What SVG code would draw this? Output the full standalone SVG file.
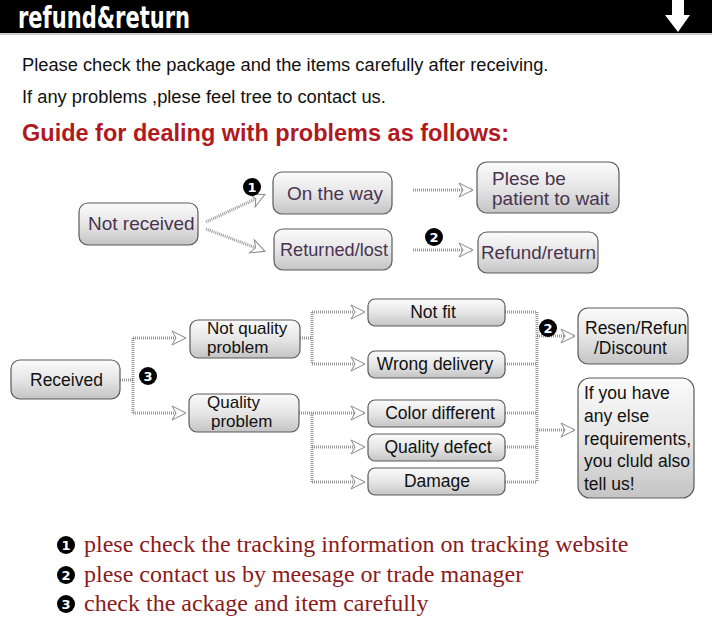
<svg xmlns="http://www.w3.org/2000/svg" width="712" height="618" viewBox="0 0 712 618">
<defs>
<linearGradient id="g" x1="0" y1="0" x2="0" y2="1">
<stop offset="0" stop-color="#fbfbfb"/><stop offset="0.5" stop-color="#e6e6e6"/><stop offset="1" stop-color="#c4c4c4"/>
</linearGradient>
<marker id="ah" viewBox="0 0 16 16" refX="14" refY="8" markerWidth="16" markerHeight="16" markerUnits="userSpaceOnUse" orient="auto">
<path d="M1,1 L15,8 L1,15 L5,8 Z" fill="#fff" stroke="#888" stroke-width="1"/>
</marker>
</defs>
<style>
.n rect{fill:url(#g);stroke:#5a5a5a;stroke-width:1.2}
.t1{font-family:"Liberation Sans",Arial,sans-serif;font-size:19px;fill:#4a3350}
.t2{font-family:"Liberation Sans",Arial,sans-serif;font-size:17.5px;fill:#111}
.t3{font-family:"Liberation Sans",Arial,sans-serif;font-size:17px;fill:#111}
.c{fill:none;stroke:#999;stroke-width:3;stroke-dasharray:1 1}
.a{marker-end:url(#ah)}
.b circle{fill:#000}
.b text{font-family:"DejaVu Sans",sans-serif;font-weight:bold;font-size:13px;fill:#fff;text-anchor:middle}
.f{font-family:"Liberation Serif","Times New Roman",serif;font-size:24px;fill:#8b1a1a}
</style>
<rect x="0" y="0" width="712" height="618" fill="#fff"/>
<g id="header">
<rect x="0" y="0" width="712" height="33" fill="#000"/>
<rect x="0" y="33" width="712" height="2" fill="#ccc"/>
<text x="18" y="28" font-family="DejaVu Sans Condensed,DejaVu Sans,sans-serif" font-weight="bold" font-size="31" fill="#fff" textLength="172" lengthAdjust="spacingAndGlyphs">refund&amp;return</text>
<path d="M672,0 H684 V15 H690 L678,32 L665,15 H672 Z" fill="#fff"/>
</g>
<g id="intro">
<text x="22" y="71" font-family="Liberation Sans,Arial,sans-serif" font-size="18.3" fill="#111">Please check the package and the items carefully after receiving.</text>
<text x="22" y="103" font-family="Liberation Sans,Arial,sans-serif" font-size="18.3" fill="#111">If any problems ,plese feel tree to contact us.</text>
<text x="22" y="141" font-family="Liberation Sans,Arial,sans-serif" font-size="23.5" font-weight="bold" fill="#b0191e">Guide for dealing with problems as follows:</text>
</g>
<g id="connectors">
<path class="c a" d="M206,222 L264,195"/>
<path class="c a" d="M206,229 L264,251"/>
<path class="c a" d="M413,190 L472,190"/>
<path class="c a" d="M413,250 L472,250"/>
<path class="c" d="M120,380 H133 M133,338 V413"/>
<path class="c a" d="M133,338 H185"/>
<path class="c a" d="M133,413 H185"/>
<path class="c" d="M300,338 H312 M312,312 V364"/>
<path class="c a" d="M312,312 H364"/>
<path class="c a" d="M312,364 H364"/>
<path class="c a" d="M299,413 H364"/>
<path class="c" d="M312,413 V482"/>
<path class="c a" d="M312,447 H364"/>
<path class="c a" d="M312,482 H364"/>
<path class="c" d="M505,312 H537 M505,364 H537 M505,413 H537 M505,447 H537 M505,482 H537 M537,312 V482"/>
<path class="c a" d="M537,336 H574"/>
<path class="c a" d="M537,430 H574"/>
</g>
<g id="not-received" class="n"><rect x="79" y="203" width="119" height="42" rx="9"/><text class="t1" x="88" y="230">Not received</text></g>
<g id="on-the-way" class="n"><rect x="273" y="172" width="119" height="42" rx="9"/><text class="t1" x="287" y="200">On the way</text></g>
<g id="returned-lost" class="n"><rect x="274" y="229" width="118" height="41" rx="9"/><text class="t1" x="280" y="256" textLength="108" lengthAdjust="spacingAndGlyphs">Returned/lost</text></g>
<g id="patient" class="n"><rect x="477" y="162" width="142" height="51" rx="10"/><text class="t1" x="492" y="185">Plese be</text><text class="t1" x="492" y="205">patient to wait</text></g>
<g id="refund-return" class="n"><rect x="478" y="232" width="120" height="41" rx="9"/><text class="t1" x="481" y="259" textLength="115" lengthAdjust="spacingAndGlyphs">Refund/return</text></g>
<g id="received" class="n"><rect x="11" y="360" width="109" height="39" rx="9"/><text class="t2" x="30" y="386">Received</text></g>
<g id="not-quality" class="n"><rect x="190" y="320" width="110" height="38" rx="8"/><text class="t3" x="207" y="334">Not quality</text><text class="t3" x="207" y="353">problem</text></g>
<g id="quality" class="n"><rect x="189" y="394" width="110" height="38" rx="8"/><text class="t3" x="207" y="408">Quality</text><text class="t3" x="211" y="427">problem</text></g>
<g id="not-fit" class="n"><rect x="368" y="299" width="137" height="27" rx="7"/><text class="t2" x="433" y="318" text-anchor="middle">Not fit</text></g>
<g id="wrong-delivery" class="n"><rect x="368" y="351" width="137" height="27" rx="7"/><text class="t2" x="435" y="370" text-anchor="middle">Wrong delivery</text></g>
<g id="color-different" class="n"><rect x="368" y="400" width="137" height="27" rx="7"/><text class="t2" x="440" y="419" text-anchor="middle">Color different</text></g>
<g id="quality-defect" class="n"><rect x="368" y="434" width="137" height="27" rx="7"/><text class="t2" x="438" y="453" text-anchor="middle">Quality defect</text></g>
<g id="damage" class="n"><rect x="368" y="468" width="137" height="27" rx="7"/><text class="t2" x="437" y="487" text-anchor="middle">Damage</text></g>
<g id="resend" class="n"><rect x="578" y="308" width="110" height="56" rx="10"/><text class="t2" x="585" y="334">Resen/Refun</text><text class="t2" x="594" y="354">/Discount</text></g>
<g id="else" class="n"><rect x="578" y="378" width="116" height="120" rx="12"/><text class="t2" x="584" y="399">If you have</text><text class="t2" x="584" y="422">any else</text><text class="t2" x="584" y="445">requirements,</text><text class="t2" x="584" y="467">you cluld also</text><text class="t2" x="584" y="490">tell us!</text></g>
<g id="badges" class="b">
<circle cx="252" cy="187" r="9"/><text x="252" y="191.5">1</text>
<circle cx="434" cy="237" r="9"/><text x="434" y="241.5">2</text>
<circle cx="148" cy="376" r="9"/><text x="148" y="380.5">3</text>
<circle cx="548" cy="328" r="9"/><text x="548" y="332.5">2</text>
</g>
<g id="footnotes">
<g class="b"><circle cx="66" cy="545" r="9"/><text x="66" y="549.5">1</text>
<circle cx="66" cy="575" r="9"/><text x="66" y="579.5">2</text>
<circle cx="66" cy="604" r="9"/><text x="66" y="608.5">3</text></g>
<text class="f" x="84" y="552">plese check the tracking information on tracking website</text>
<text class="f" x="84" y="582">plese contact us by meesage or trade manager</text>
<text class="f" x="84" y="611">check the ackage and item carefully</text>
</g>
</svg>
